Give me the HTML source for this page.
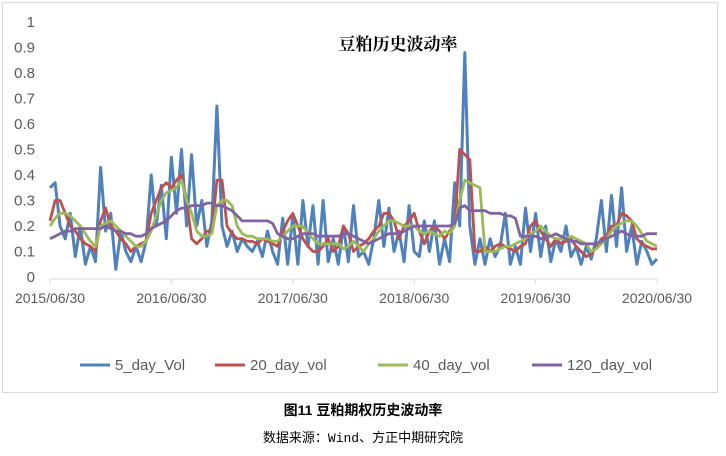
<!DOCTYPE html>
<html><head><meta charset="utf-8"><style>
body{margin:0;background:#fff;width:726px;height:451px;overflow:hidden}
svg text{font-family:"Liberation Sans","Noto Sans CJK SC",sans-serif}
</style></head><body>
<svg id="chart" width="726" height="451" xmlns="http://www.w3.org/2000/svg">
<rect x="2.5" y="2.5" width="715" height="390" fill="#fff" stroke="#d9d9d9"/>
<text x="398" y="50" text-anchor="middle" font-size="17" font-weight="bold" style="font-family:'Liberation Serif','Noto Serif CJK SC',serif">豆粕历史波动率</text>
<g id="yaxis"></g>
<g id="xaxis"></g>
<g id="series"></g>
<g id="legend"></g>
<text x="363" y="415" text-anchor="middle" font-size="14" font-weight="bold">图11  豆粕期权历史波动率</text>
<text x="363" y="442" text-anchor="middle" font-size="13" style="font-family:'Liberation Mono','Noto Sans CJK SC',monospace">数据来源：Wind、方正中期研究院</text>
</svg>
<script>
const yTicks=[0,0.1,0.2,0.3,0.4,0.5,0.6,0.7,0.8,0.9,1];
const yTickLabels=["0","0.1","0.2","0.3","0.4","0.5","0.6","0.7","0.8","0.9","1"];
const xTickLabels=["2015/06/30","2016/06/30","2017/06/30","2018/06/30","2019/06/30","2020/06/30"];
const seriesNames=["5_day_Vol","20_day_vol","40_day_vol","120_day_vol"];
const vol5=[0.35,0.37,0.2,0.15,0.25,0.08,0.2,0.05,0.12,0.06,0.43,0.18,0.25,0.03,0.18,0.1,0.06,0.12,0.06,0.14,0.4,0.2,0.36,0.15,0.47,0.25,0.5,0.2,0.48,0.2,0.3,0.12,0.22,0.67,0.2,0.12,0.18,0.1,0.15,0.12,0.1,0.14,0.08,0.18,0.1,0.05,0.23,0.05,0.24,0.05,0.3,0.12,0.28,0.05,0.3,0.06,0.15,0.05,0.2,0.06,0.28,0.08,0.1,0.05,0.15,0.3,0.12,0.27,0.1,0.18,0.06,0.28,0.1,0.08,0.22,0.1,0.22,0.05,0.15,0.06,0.37,0.2,0.88,0.2,0.05,0.15,0.05,0.15,0.08,0.12,0.25,0.05,0.12,0.05,0.27,0.1,0.25,0.08,0.2,0.06,0.15,0.1,0.2,0.08,0.12,0.05,0.12,0.07,0.15,0.3,0.1,0.32,0.12,0.35,0.1,0.2,0.05,0.14,0.1,0.05,0.07];
const vol20=[0.22,0.3,0.3,0.25,0.2,0.18,0.15,0.13,0.12,0.1,0.22,0.27,0.2,0.18,0.15,0.13,0.1,0.12,0.13,0.14,0.25,0.3,0.35,0.37,0.35,0.38,0.4,0.3,0.15,0.13,0.15,0.18,0.18,0.38,0.38,0.2,0.17,0.15,0.15,0.14,0.14,0.13,0.15,0.14,0.13,0.12,0.18,0.22,0.25,0.2,0.15,0.12,0.1,0.1,0.12,0.15,0.1,0.12,0.2,0.17,0.1,0.12,0.13,0.15,0.18,0.2,0.25,0.25,0.22,0.15,0.2,0.22,0.25,0.18,0.13,0.18,0.2,0.18,0.15,0.18,0.2,0.5,0.48,0.46,0.1,0.1,0.12,0.1,0.12,0.13,0.12,0.11,0.1,0.12,0.13,0.2,0.22,0.18,0.15,0.12,0.15,0.13,0.14,0.15,0.12,0.1,0.08,0.09,0.12,0.15,0.16,0.2,0.2,0.25,0.24,0.22,0.15,0.13,0.12,0.11,0.11];
const vol40=[0.2,0.23,0.25,0.25,0.24,0.22,0.2,0.17,0.14,0.12,0.2,0.21,0.22,0.2,0.18,0.16,0.14,0.12,0.12,0.14,0.18,0.24,0.3,0.33,0.34,0.35,0.38,0.3,0.25,0.18,0.16,0.16,0.17,0.28,0.3,0.3,0.28,0.2,0.17,0.16,0.16,0.15,0.15,0.15,0.14,0.14,0.16,0.18,0.2,0.2,0.2,0.17,0.15,0.13,0.13,0.13,0.13,0.13,0.11,0.12,0.14,0.12,0.1,0.13,0.15,0.18,0.2,0.22,0.22,0.21,0.2,0.2,0.2,0.18,0.17,0.18,0.17,0.16,0.18,0.17,0.2,0.3,0.38,0.37,0.36,0.35,0.1,0.1,0.1,0.11,0.12,0.12,0.13,0.14,0.15,0.17,0.18,0.2,0.18,0.16,0.15,0.15,0.15,0.16,0.15,0.14,0.13,0.1,0.11,0.13,0.15,0.18,0.2,0.21,0.22,0.22,0.2,0.17,0.14,0.13,0.12];
const vol120=[0.15,0.16,0.17,0.18,0.18,0.19,0.19,0.19,0.19,0.19,0.19,0.2,0.19,0.18,0.18,0.17,0.17,0.16,0.16,0.17,0.19,0.2,0.21,0.22,0.24,0.26,0.27,0.27,0.28,0.28,0.28,0.29,0.29,0.28,0.28,0.27,0.26,0.24,0.22,0.22,0.22,0.22,0.22,0.22,0.21,0.17,0.16,0.15,0.15,0.16,0.17,0.17,0.17,0.16,0.16,0.16,0.16,0.16,0.17,0.17,0.16,0.15,0.14,0.13,0.14,0.15,0.16,0.17,0.17,0.17,0.18,0.19,0.2,0.2,0.2,0.2,0.2,0.2,0.2,0.2,0.21,0.27,0.28,0.26,0.26,0.26,0.26,0.25,0.25,0.25,0.24,0.24,0.23,0.16,0.16,0.16,0.16,0.15,0.16,0.16,0.17,0.16,0.15,0.14,0.14,0.13,0.13,0.13,0.13,0.14,0.15,0.16,0.17,0.18,0.17,0.16,0.16,0.16,0.17,0.17,0.17];
const colors=["#4f81bd","#c0504d","#9bbb59","#8064a2"];
const NS="http://www.w3.org/2000/svg";
const X0=50,X1=657,Y0=277,Y1=22;
function yScale(v){return Y0-(v/1)*(Y0-Y1);}
function xScale(i,n){return X0+(X1-X0)*i/(n-1);}
function mk(tag,attrs,parent){const e=document.createElementNS(NS,tag);for(const k in attrs)e.setAttribute(k,attrs[k]);parent.appendChild(e);return e;}
const ya=document.getElementById('yaxis');
yTicks.forEach((t,i)=>{const e=mk('text',{x:35,y:yScale(t)+5,'text-anchor':'end','font-size':15,fill:'#595959'},ya);


e.textContent=yTickLabels[i];});
const xa=document.getElementById('xaxis');
const ax=mk('line',{x1:X0,x2:X1,y1:Y0+2,y2:Y0+2,stroke:'#d9d9d9','stroke-width':1},xa);


xTickLabels.forEach((l,i)=>{const x=X0+(X1-X0)*i/(xTickLabels.length-1);
const tk=mk('line',{x1:x,x2:x,y1:Y0+2,y2:Y0+7,stroke:'#d9d9d9'},xa);


const e=mk('text',{x:x,y:303,'text-anchor':'middle','font-size':14,fill:'#595959'},xa);


e.textContent=l;});
const sg=document.getElementById('series');
[vol5,vol20,vol40,vol120].forEach((arr,s)=>{const pts=arr.map((v,i)=>xScale(i,arr.length).toFixed(1)+','+yScale(v).toFixed(1)).join(' ');
const p=mk('polyline',{points:pts,fill:'none',stroke:colors[s],'stroke-width':s==0?3:2.8,'stroke-linejoin':'round'},sg);

});
const lg=document.getElementById('legend');
const lx=[80,215,378,532];
seriesNames.forEach((n,s)=>{const l=mk('line',{x1:lx[s],x2:lx[s]+30,y1:365,y2:365,stroke:colors[s],'stroke-width':3},lg);


const t=mk('text',{x:lx[s]+35,y:370,'font-size':15,fill:'#595959'},lg);


t.textContent=n;});
</script>
</body></html>
